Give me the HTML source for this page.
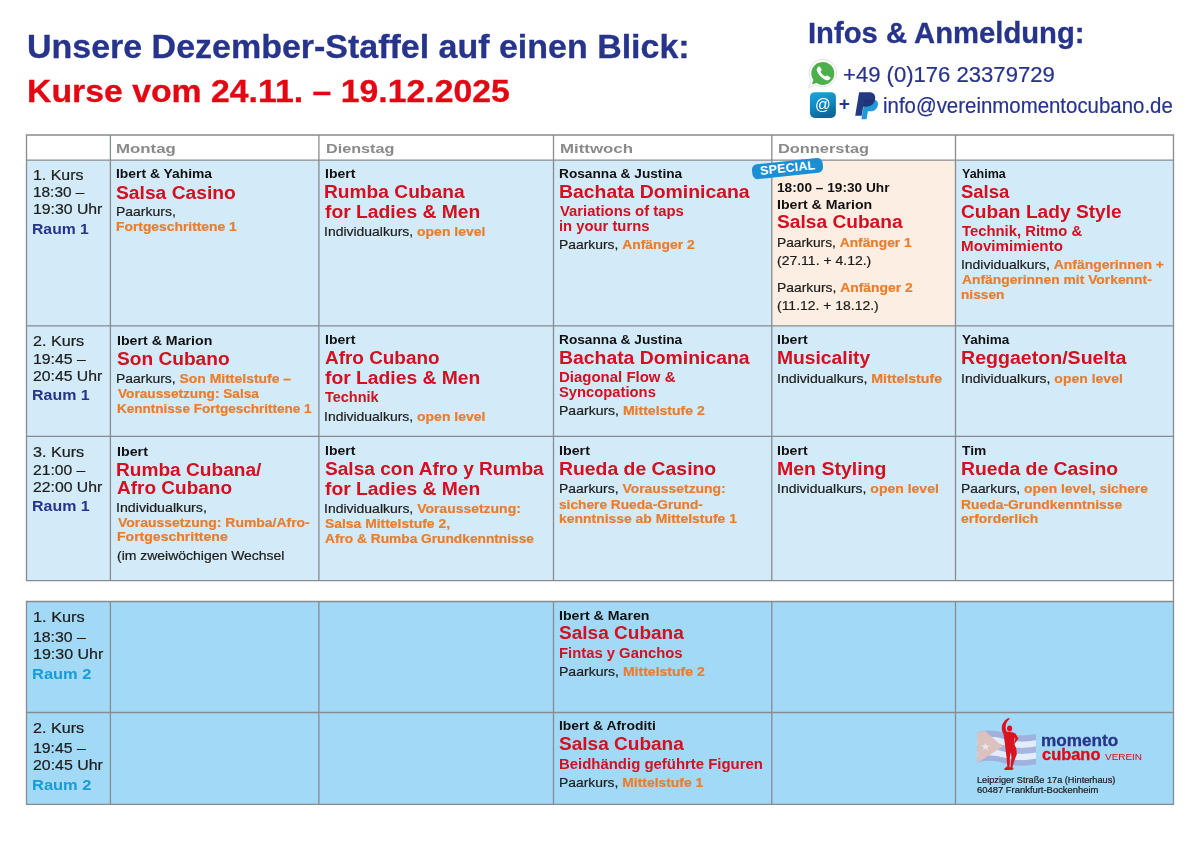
<!DOCTYPE html>
<html lang="de">
<head>
<meta charset="utf-8">
<title>Unsere Dezember-Staffel auf einen Blick</title>
<style>
html,body{margin:0;padding:0;background:#fff}
body{width:1200px;height:848px;position:relative;overflow:hidden;font-family:"Liberation Sans", sans-serif;}
#pg div{position:absolute;white-space:nowrap;transform-origin:0 0}
#pg b{font-weight:700;color:#ea7d2c}
svg{position:absolute;left:0;top:0}
.h1{font-size:32.4px;line-height:32.4px;font-weight:700;color:#27348b}
.h2{font-size:32.2px;line-height:32.2px;font-weight:700;color:#e30613}
.hi{font-size:28.7px;line-height:28.7px;font-weight:700;color:#27348b}
.hp{font-size:22.5px;line-height:22.5px;font-weight:400;color:#27348b}
.pl{font-size:19.0px;line-height:19.0px;font-weight:700;color:#27348b}
.day{font-size:13.7px;line-height:13.7px;font-weight:700;color:#8a8a8a}
.n{font-size:12.6px;line-height:12.6px;font-weight:700;color:#111111}
.t{font-size:18.0px;line-height:18.0px;font-weight:700;color:#d40f1f}
.s{font-size:14.0px;line-height:14.0px;font-weight:700;color:#d40f1f}
.d{font-size:13.3px;line-height:13.3px;font-weight:400;color:#1d1d1b}
.k{font-size:14.7px;line-height:14.7px;font-weight:400;color:#1d1d1b}
.r1{font-size:14.4px;line-height:14.4px;font-weight:700;color:#27348b}
.r2{font-size:14.4px;line-height:14.4px;font-weight:700;color:#1a9bd7}
.lm{font-size:16.0px;line-height:16.0px;font-weight:700;color:#27348b}
.lc{font-size:16.0px;line-height:16.0px;font-weight:700;color:#e30613}
.lv{font-size:9.4px;line-height:9.4px;font-weight:400;color:#e30613}
.la{font-size:9.0px;line-height:9.0px;font-weight:400;color:#1d1d1b}

#pg .badge{left:751.9px;top:161.0px;width:71.4px;height:15.2px;background:#1b8fd3;border-radius:5.5px;
transform:rotate(-6deg);transform-origin:50% 50%;color:#fff;font-weight:700;font-size:12.4px;line-height:15.4px;
text-align:center;letter-spacing:.25px}
#pg .at{left:815.1px;top:95.3px;font-size:17.2px;line-height:18px;color:#fff;font-weight:400;transform:scaleX(.9)}
.d,.k,.hp,.la{-webkit-text-stroke:.22px}
.h1,.h2,.hi,.lm,.lc{-webkit-text-stroke:.3px}

</style>
</head>
<body>
<svg class="grid" width="1200" height="848" viewBox="0 0 1200 848" ><rect x="26.5" y="160.2" width="1147.0" height="420.50000000000006" fill="#d3eaf9"/><rect x="771.8" y="160.2" width="183.70000000000005" height="165.60000000000002" fill="#fdeee4"/><rect x="26.5" y="601.5" width="1147.0" height="202.79999999999995" fill="#a2d9f7"/><path d="M25.8 135.0H1174.2M25.8 160.2H1174.2M25.8 325.8H1174.2M25.8 436.3H1174.2M25.8 580.7H1174.2M25.8 601.5H1174.2M25.8 712.5H1174.2M25.8 804.3H1174.2M26.5 135.0V580.7M26.5 601.5V804.3M110.4 135.0V580.7M110.4 601.5V804.3M318.9 135.0V580.7M318.9 601.5V804.3M553.5 135.0V580.7M553.5 601.5V804.3M771.8 135.0V580.7M771.8 601.5V804.3M955.5 135.0V580.7M955.5 601.5V804.3M1173.5 135.0V804.3" stroke="#888b8f" stroke-width="1.3" fill="none"/></svg>
<svg class="ico" width="1200" height="848" viewBox="0 0 1200 848">
<defs>
<linearGradient id="ag" x1="0" y1="0" x2="0.35" y2="1">
<stop offset="0" stop-color="#1da6de"/><stop offset="0.55" stop-color="#128ac2"/><stop offset="1" stop-color="#0b6896"/>
</linearGradient>
<filter id="sf" x="-5%" y="-10%" width="110%" height="120%"><feGaussianBlur stdDeviation="0.45"/></filter>
</defs>
<!-- whatsapp -->
<g>
<path d="M822.9 59.4a13.7 13.7 0 0 1 0 27.4c-2.5 0-4.9-.6-7-1.8l-7.3 2.6 2.5-7.4a13.7 13.7 0 0 1 11.8-20.8z" fill="#fff" stroke="#e3e3e6" stroke-width="1"/>
<path d="M822.8 61.9a11.5 11.5 0 0 1 0 23c-2.3 0-4.500-.7-6.300-1.900l-4.700 1.600 1.600-4.600a11.500 11.500 0 0 1 9.400-18.100z" fill="#4bb04a"/>
<path d="M818.300 66.900c.5-.5 1.300-.5 1.700.1l1.500 2.300c.3.500.2 1.100-.2 1.500l-.8.800c1 2.100 2.700 3.900 4.900 5l.9-.8c.4-.4 1-.4 1.500-.1l2.200 1.500c.6.400.6 1.200.1 1.700-1.100 1.300-2.900 1.700-4.500 1-4-1.700-7.200-5-8.700-9.100-.5-1.500.1-3 1.400-3.900z" fill="#fff"/>
</g>
<!-- @ tile -->
<rect x="809.9" y="92.2" width="26" height="25.7" rx="4.8" ry="4.8" fill="url(#ag)"/>
<!-- paypal -->
<g>
<path d="M864.600 99.400h8.200c3.700 0 5.700 2.200 5.100 5.600-.7 4.200-3.700 6.300-7.600 6.300h-2.400l-1.300 7.900h-5.200z" fill="#2199d6"/>
<path d="M859.100 92.300h10c4.300 0 6.700 2.600 6 6.700-.8 4.900-4.300 7.400-8.800 7.400h-3.100l-1.500 9.300h-6.500z" fill="#223a82"/>
<path d="M864.300 99.400h10.700c-.9 4.600-4.300 7-8.700 7h-3.100z" fill="#1f2f6f" opacity=".55"/>
</g>
<!-- logo: flag + dancer -->
<g>
<g opacity=".8" filter="url(#sf)">
<path d="M977.300 732.600c8-2.800 17-2.600 26 .2 11 3.200 22 3.500 32.700 1.200v6.200c-10.700 2.300-21.700 2-32.700-1.200-9-2.800-18-3-26-.2z" fill="#a3a6d6"/>
<path d="M977.300 738.800c8-2.800 17-2.600 26 .2 11 3.200 22 3.500 32.700 1.200v6.200c-10.700 2.300-21.700 2-32.700-1.200-9-2.800-18-3-26-.2z" fill="#f3f2fa"/>
<path d="M977.300 745c8-2.800 17-2.600 26 .2 11 3.200 22 3.500 32.700 1.200v6.200c-10.700 2.300-21.700 2-32.700-1.200-9-2.800-18-3-26-.2z" fill="#a9abd8"/>
<path d="M977.300 751.200c8-2.800 17-2.600 26 .2 11 3.200 22 3.500 32.700 1.200v6.200c-10.700 2.300-21.700 2-32.700-1.200-9-2.800-18-3-26-.2z" fill="#f3f2fa"/>
<path d="M977.300 757.400c8-2.800 17-2.600 26 .2 11 3.200 22 3.500 32.700 1.200v5.400c-10.700 2.300-21.700 2-32.700-1.200-9-2.800-18-3-26-.2z" fill="#a3a6d6"/>
<path d="M977.300 732.600c2.500-.9 5-1.400 7.600-1.700l17.600 15.700-25.200 16.400z" fill="#ecbcb0"/>
<path d="M985.500 742.500l1.100 3h3.200l-2.600 1.900 1 3.100-2.700-1.900-2.700 1.900 1-3.100-2.600-1.900h3.200z" fill="#f7ebe8"/>
</g>
<g fill="#d9141f" stroke="none" transform="translate(970,712) scale(0.075472)">
<path fill-rule="evenodd" d="M515 78C488 84 440 120 425 180C415 230 428 268 444 292L460 400L468 470L484 600L494 720L452 752L460 770L562 770L578 750L562 733L586 650L620 560L613 480L598 450L588 425L642 352L602 285L562 268L490 262C470 240 468 200 478 160C490 122 512 102 527 88Z
M541 530L549 600L536 733L524 733L529 600Z
M588 338L603 354L584 408Z"/>
<ellipse cx="525" cy="218" rx="34" ry="40"/>
</g>
</g>
</g>
</svg>
<div id="pg">
<div class="h1" style="left:26.76px;top:31px;transform:scaleX(1.0488)">Unsere Dezember-Staffel auf einen Blick:</div>
<div class="h2" style="left:26.50px;top:75px;transform:scaleX(1.0498)">Kurse vom 24.11. – 19.12.2025</div>
<div class="hi" style="left:808.22px;top:19px;transform:scaleX(1.0187)">Infos &amp; Anmeldung:</div>
<div class="hp" style="left:843.32px;top:64px;transform:scaleX(0.9811)">+49 (0)176 23379729</div>
<div class="pl" style="left:838.85px;top:94px;transform:scaleX(1.0000)">+</div>
<div class="hp" style="left:882.64px;top:95px;transform:scaleX(0.9076)">info@vereinmomentocubano.de</div>
<div class="day" style="left:116.27px;top:142px;transform:scaleX(1.2299)">Montag</div>
<div class="day" style="left:325.62px;top:142px;transform:scaleX(1.1821)">Dienstag</div>
<div class="day" style="left:559.57px;top:142px;transform:scaleX(1.2296)">Mittwoch</div>
<div class="day" style="left:778.30px;top:142px;transform:scaleX(1.1973)">Donnerstag</div>
<div class="k" style="left:32.67px;top:168px;transform:scaleX(1.0833)">1. Kurs</div>
<div class="k" style="left:32.70px;top:185px;transform:scaleX(1.0469)">18:30 –</div>
<div class="k" style="left:32.68px;top:202px;transform:scaleX(1.0748)">19:30 Uhr</div>
<div class="r1" style="left:32.41px;top:222px;transform:scaleX(1.0941)">Raum 1</div>
<div class="k" style="left:33.20px;top:334px;transform:scaleX(1.0989)">2. Kurs</div>
<div class="k" style="left:32.67px;top:352px;transform:scaleX(1.0781)">19:45 –</div>
<div class="k" style="left:33.21px;top:369px;transform:scaleX(1.0742)">20:45 Uhr</div>
<div class="r1" style="left:32.39px;top:388px;transform:scaleX(1.1089)">Raum 1</div>
<div class="k" style="left:33.20px;top:445px;transform:scaleX(1.0989)">3. Kurs</div>
<div class="k" style="left:33.22px;top:463px;transform:scaleX(1.0670)">21:00 –</div>
<div class="k" style="left:33.21px;top:480px;transform:scaleX(1.0742)">22:00 Uhr</div>
<div class="r1" style="left:32.39px;top:499px;transform:scaleX(1.1089)">Raum 1</div>
<div class="k" style="left:32.64px;top:610px;transform:scaleX(1.1111)">1. Kurs</div>
<div class="k" style="left:32.67px;top:630px;transform:scaleX(1.0781)">18:30 –</div>
<div class="k" style="left:32.66px;top:647px;transform:scaleX(1.0906)">19:30 Uhr</div>
<div class="r2" style="left:32.36px;top:667px;transform:scaleX(1.1436)">Raum 2</div>
<div class="k" style="left:33.20px;top:721px;transform:scaleX(1.0989)">2. Kurs</div>
<div class="k" style="left:32.67px;top:741px;transform:scaleX(1.0781)">19:45 –</div>
<div class="k" style="left:33.21px;top:758px;transform:scaleX(1.0820)">20:45 Uhr</div>
<div class="r2" style="left:32.36px;top:778px;transform:scaleX(1.1436)">Raum 2</div>
<div class="n" style="left:116.07px;top:168px;transform:scaleX(1.1006)">Ibert &amp; Yahima</div>
<div class="t" style="left:116.17px;top:184px;transform:scaleX(1.0691)">Salsa Casino</div>
<div class="d" style="left:115.75px;top:205px;transform:scaleX(1.0502)">Paarkurs,</div>
<div class="d" style="left:116.02px;top:220px;transform:scaleX(1.0409)"><b>Fortgeschrittene 1</b></div>
<div class="n" style="left:324.67px;top:168px;transform:scaleX(1.1132)">Ibert</div>
<div class="t" style="left:324.17px;top:183px;transform:scaleX(1.0649)">Rumba Cubana</div>
<div class="t" style="left:325.23px;top:203px;transform:scaleX(1.0713)">for Ladies &amp; Men</div>
<div class="d" style="left:324.45px;top:225px;transform:scaleX(1.0493)">Individualkurs, <b>open level</b></div>
<div class="n" style="left:559.19px;top:168px;transform:scaleX(1.0865)">Rosanna &amp; Justina</div>
<div class="t" style="left:558.65px;top:183px;transform:scaleX(1.0767)">Bachata Dominicana</div>
<div class="s" style="left:559.73px;top:204px;transform:scaleX(1.0603)">Variations of taps</div>
<div class="s" style="left:558.94px;top:219px;transform:scaleX(1.0565)">in your turns</div>
<div class="d" style="left:558.96px;top:238px;transform:scaleX(1.0427)">Paarkurs, <b>Anfänger 2</b></div>
<div class="n" style="left:777.19px;top:182px;transform:scaleX(1.0861)">18:00 – 19:30 Uhr</div>
<div class="n" style="left:777.16px;top:199px;transform:scaleX(1.1243)">Ibert &amp; Marion</div>
<div class="t" style="left:777.47px;top:213px;transform:scaleX(1.0641)">Salsa Cubana</div>
<div class="d" style="left:776.96px;top:236px;transform:scaleX(1.0353)">Paarkurs, <b>Anfänger 1</b></div>
<div class="d" style="left:777.21px;top:254px;transform:scaleX(1.0523)">(27.11. + 4.12.)</div>
<div class="d" style="left:776.96px;top:281px;transform:scaleX(1.0431)">Paarkurs, <b>Anfänger 2</b></div>
<div class="d" style="left:777.21px;top:299px;transform:scaleX(1.0492)">(11.12. + 18.12.)</div>
<div class="n" style="left:961.75px;top:168px;transform:scaleX(0.9932)">Yahima</div>
<div class="t" style="left:961.49px;top:183px;transform:scaleX(1.0267)">Salsa</div>
<div class="t" style="left:961.20px;top:203px;transform:scaleX(1.0638)">Cuban Lady Style</div>
<div class="s" style="left:961.73px;top:224px;transform:scaleX(1.0604)">Technik, Ritmo &amp;</div>
<div class="s" style="left:960.92px;top:239px;transform:scaleX(1.0832)">Movimimiento</div>
<div class="d" style="left:960.95px;top:258px;transform:scaleX(1.0462)">Individualkurs, <b>Anfängerinnen +</b></div>
<div class="d" style="left:961.74px;top:273px;transform:scaleX(1.0413)"><b>Anfängerinnen mit Vorkennt-</b></div>
<div class="d" style="left:961.23px;top:288px;transform:scaleX(1.0307)"><b>nissen</b></div>
<div class="n" style="left:116.66px;top:335px;transform:scaleX(1.1261)">Ibert &amp; Marion</div>
<div class="t" style="left:116.97px;top:350px;transform:scaleX(1.0621)">Son Cubano</div>
<div class="d" style="left:116.45px;top:372px;transform:scaleX(1.0483)">Paarkurs, <b>Son Mittelstufe –</b></div>
<div class="d" style="left:117.50px;top:387px;transform:scaleX(1.0273)"><b>Voraussetzung: Salsa</b></div>
<div class="d" style="left:116.74px;top:402px;transform:scaleX(1.0171)"><b>Kenntnisse Fortgeschrittene 1</b></div>
<div class="n" style="left:324.67px;top:334px;transform:scaleX(1.1132)">Ibert</div>
<div class="t" style="left:324.97px;top:349px;transform:scaleX(1.0510)">Afro Cubano</div>
<div class="t" style="left:325.23px;top:369px;transform:scaleX(1.0713)">for Ladies &amp; Men</div>
<div class="s" style="left:325.24px;top:390px;transform:scaleX(1.0340)">Technik</div>
<div class="d" style="left:324.45px;top:410px;transform:scaleX(1.0493)">Individualkurs, <b>open level</b></div>
<div class="n" style="left:559.19px;top:334px;transform:scaleX(1.0865)">Rosanna &amp; Justina</div>
<div class="t" style="left:558.65px;top:349px;transform:scaleX(1.0767)">Bachata Dominicana</div>
<div class="s" style="left:558.93px;top:370px;transform:scaleX(1.0698)">Diagonal Flow &amp;</div>
<div class="s" style="left:559.47px;top:385px;transform:scaleX(1.0551)">Syncopations</div>
<div class="d" style="left:558.95px;top:404px;transform:scaleX(1.0548)">Paarkurs, <b>Mittelstufe 2</b></div>
<div class="n" style="left:777.41px;top:334px;transform:scaleX(1.1226)">Ibert</div>
<div class="t" style="left:776.91px;top:349px;transform:scaleX(1.0700)">Musicality</div>
<div class="d" style="left:777.19px;top:372px;transform:scaleX(1.0634)">Individualkurs, <b>Mittelstufe</b></div>
<div class="n" style="left:961.73px;top:334px;transform:scaleX(1.0739)">Yahima</div>
<div class="t" style="left:960.64px;top:349px;transform:scaleX(1.0877)">Reggaeton/Suelta</div>
<div class="d" style="left:960.95px;top:372px;transform:scaleX(1.0526)">Individualkurs, <b>open level</b></div>
<div class="n" style="left:116.65px;top:446px;transform:scaleX(1.1321)">Ibert</div>
<div class="t" style="left:116.17px;top:461px;transform:scaleX(1.0609)">Rumba Cubana/</div>
<div class="t" style="left:116.97px;top:479px;transform:scaleX(1.0557)">Afro Cubano</div>
<div class="d" style="left:116.43px;top:501px;transform:scaleX(1.0693)">Individualkurs,</div>
<div class="d" style="left:117.50px;top:516px;transform:scaleX(1.0479)"><b>Voraussetzung: Rumba/Afro-</b></div>
<div class="d" style="left:116.71px;top:530px;transform:scaleX(1.0554)"><b>Fortgeschrittene</b></div>
<div class="d" style="left:116.71px;top:549px;transform:scaleX(1.0507)">(im zweiwöchigen Wechsel</div>
<div class="n" style="left:324.67px;top:445px;transform:scaleX(1.1132)">Ibert</div>
<div class="t" style="left:324.97px;top:460px;transform:scaleX(1.0595)">Salsa con Afro y Rumba</div>
<div class="t" style="left:325.23px;top:480px;transform:scaleX(1.0713)">for Ladies &amp; Men</div>
<div class="d" style="left:324.45px;top:502px;transform:scaleX(1.0499)">Individualkurs, <b>Voraussetzung:</b></div>
<div class="d" style="left:325.24px;top:517px;transform:scaleX(1.0442)"><b>Salsa Mittelstufe 2,</b></div>
<div class="d" style="left:325.24px;top:532px;transform:scaleX(1.0322)"><b>Afro &amp; Rumba Grundkenntnisse</b></div>
<div class="n" style="left:559.15px;top:445px;transform:scaleX(1.1321)">Ibert</div>
<div class="t" style="left:558.65px;top:460px;transform:scaleX(1.0764)">Rueda de Casino</div>
<div class="d" style="left:558.95px;top:482px;transform:scaleX(1.0461)">Paarkurs, <b>Voraussetzung:</b></div>
<div class="d" style="left:559.48px;top:498px;transform:scaleX(1.0306)"><b>sichere Rueda-Grund-</b></div>
<div class="d" style="left:559.21px;top:512px;transform:scaleX(1.0473)"><b>kenntnisse ab Mittelstufe 1</b></div>
<div class="n" style="left:777.41px;top:445px;transform:scaleX(1.1226)">Ibert</div>
<div class="t" style="left:776.90px;top:460px;transform:scaleX(1.0838)">Men Styling</div>
<div class="d" style="left:777.20px;top:482px;transform:scaleX(1.0526)">Individualkurs, <b>open level</b></div>
<div class="n" style="left:961.73px;top:445px;transform:scaleX(1.0952)">Tim</div>
<div class="t" style="left:960.65px;top:460px;transform:scaleX(1.0764)">Rueda de Casino</div>
<div class="d" style="left:960.96px;top:482px;transform:scaleX(1.0407)">Paarkurs, <b>open level, sichere</b></div>
<div class="d" style="left:961.22px;top:498px;transform:scaleX(1.0440)"><b>Rueda-Grundkenntnisse</b></div>
<div class="d" style="left:961.48px;top:512px;transform:scaleX(1.0447)"><b>erforderlich</b></div>
<div class="n" style="left:559.16px;top:610px;transform:scaleX(1.1234)">Ibert &amp; Maren</div>
<div class="t" style="left:559.47px;top:624px;transform:scaleX(1.0573)">Salsa Cubana</div>
<div class="s" style="left:558.94px;top:646px;transform:scaleX(1.0586)">Fintas y Ganchos</div>
<div class="d" style="left:558.95px;top:665px;transform:scaleX(1.0548)">Paarkurs, <b>Mittelstufe 2</b></div>
<div class="n" style="left:559.17px;top:720px;transform:scaleX(1.1047)">Ibert &amp; Afroditi</div>
<div class="t" style="left:559.47px;top:735px;transform:scaleX(1.0573)">Salsa Cubana</div>
<div class="s" style="left:558.93px;top:757px;transform:scaleX(1.0660)">Beidhändig geführte Figuren</div>
<div class="d" style="left:558.96px;top:776px;transform:scaleX(1.0438)">Paarkurs, <b>Mittelstufe 1</b></div>
<div class="lm" style="left:1041.43px;top:733px;transform:scaleX(1.0709)">momento</div>
<div class="lc" style="left:1041.99px;top:747px;transform:scaleX(1.0268)">cubano</div>
<div class="lv" style="left:1104.50px;top:752px;transform:scaleX(1.0599)">VEREIN</div>
<div class="la" style="left:977.49px;top:776px;transform:scaleX(1.0204)">Leipziger Straße 17a (Hinterhaus)</div>
<div class="la" style="left:977.14px;top:786px;transform:scaleX(1.0464)">60487 Frankfurt-Bockenheim</div>
<div class="badge">SPECIAL</div>
<div class="at">@</div>
</div>
</body>
</html>
